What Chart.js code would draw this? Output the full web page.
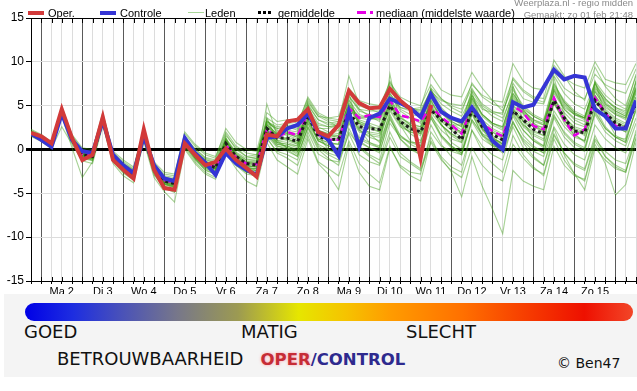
<!DOCTYPE html>
<html>
<head>
<meta charset="utf-8">
<script src="https://cdn.jsdelivr.net/npm/chart.js@4"></script>
<style>
  body { margin: 0; background: #fff; }
  #wrap { position: relative; width: 637px; height: 391px; overflow: hidden; font-family: 'Liberation Sans', Arial, sans-serif; }
  #chart { position: absolute; left: 0; top: 0; }
  .lg { position: absolute; top: 7px; font-size: 11px; line-height: 13px; color: #000; white-space: nowrap; }
  .sw { position: absolute; width: 16px; }
  .info { position: absolute; right: 4px; font-size: 9.5px; line-height: 11px; color: #8a8a8a; white-space: nowrap; }
  #panel { position: absolute; left: 4px; top: 294px; width: 633px; height: 83px; background: #f4f4f4; }
  #bar { position: absolute; left: 25px; top: 303px; width: 608px; height: 18px; border-radius: 9px;
    background: linear-gradient(90deg, #0000e6 0%, #1e2ee0 8%, #4a52b8 16%, #77778a 25%, #9c9a52 35%, #e6e600 45%, #f6c200 53%, #ff9c00 60%, #ff7000 72%, #f63a00 83%, #ee1000 92%, #f24628 100%); }
  .big { position: absolute; font-family: 'DejaVu Sans', sans-serif; font-size: 18px; line-height: 18px; color: #111; white-space: nowrap; }
  .oc { font-family: 'DejaVu Sans', sans-serif; font-weight: bold; font-size: 16.5px; }
</style>
</head>
<body>
<div id="wrap">
  <canvas id="chart" width="637" height="300"></canvas>

  <div class="sw" style="left:28px; top:11px; border-top:4px solid #d23a3a;"></div>
  <div class="lg" style="left:48px;">Oper.</div>
  <div class="sw" style="left:100px; top:11px; border-top:4px solid #3535d5;"></div>
  <div class="lg" style="left:120px;">Controle</div>
  <div class="sw" style="left:188px; top:12px; border-top:1px solid #a9d69a;"></div>
  <div class="lg" style="left:205px;">Leden</div>
  <div class="sw" style="left:258px; top:11px; width:14px; height:3px; background:repeating-linear-gradient(90deg,#000 0 3px,transparent 3px 5px);"></div>
  <div class="lg" style="left:278px;">gemiddelde</div>
  <div class="sw" style="left:357px; top:11px; width:16px; height:3px; background:repeating-linear-gradient(90deg,#e600e6 0 9px,transparent 9px 13px);"></div>
  <div class="lg" style="left:376px;">mediaan (middelste waarde)</div>

  <div class="info" style="top:-3px;">Weerplaza.nl - regio midden</div>
  <div class="info" style="top:9px;">Gemaakt: zo 01 feb 21:48</div>

  <div id="panel"></div>
  <div id="bar"></div>
  <div class="big" style="left:24px; top:323px;">GOED</div>
  <div class="big" style="left:241px; top:323px;">MATIG</div>
  <div class="big" style="left:406px; top:323px;">SLECHT</div>
  <div class="big" style="left:57px; top:350px;">BETROUWBAARHEID&nbsp;&nbsp;&nbsp;<span class="oc" style="color:#c62c36; text-shadow:0 0 3px rgba(255,120,130,0.7);">OPER</span><span class="oc" style="color:#2e2a8e;">/CONTROL</span></div>
  <div class="big" style="left:557px; top:356px; font-size:14px; line-height:14px;">© Ben47</div>
</div>

<script>
// time axis: hours after ma 2 feb 00:00 (6-hourly steps)
const hours = [-6, 0, 6, 12, 18, 24, 30, 36, 42, 48, 54, 60, 66, 72, 78, 84, 90, 96, 102, 108,
  114, 120, 126, 132, 138, 144, 150, 156, 162, 168, 174, 180, 186, 192, 198, 204, 210, 216, 222, 228,
  234, 240, 246, 252, 258, 264, 270, 276, 282, 288, 294, 300, 306, 312, 318, 324, 330, 336, 342, 348];

const dayLabels = ['Ma 2', 'Di 3', 'Wo 4', 'Do 5', 'Vr 6', 'Za 7', 'Zo 8', 'Ma 9', 'Di 10', 'Wo 11', 'Do 12', 'Vr 13', 'Za 14', 'Zo 15'];

// temperatures (°C)
const oper = [1.9, 1.5, 0.7, 4.6, 1.3, -1.2, -0.6, 3.7, -1.2, -2.3, -3.3, 2.3, -2.3, -4.4, -4.6, 0.7, -0.6, -1.8, -1.4, 0.1,
  -1.2, -2.1, -3.1, 1.7, 1.5, 3.2, 3.4, 4.6, 2.0, 1.5, 2.8, 6.7, 5.3, 4.7, 4.8, 6.9, 5.6, 4.6, -1.0, 5.1];

const controle = [1.8, 1.1, 0.3, 4.1, 1.1, -0.2, -0.4, 3.3, -0.6, -1.8, -2.7, 1.5, -1.8, -3.3, -3.6, 1.3, -0.4, -1.5, -2.9, -0.4,
  -1.6, -2.3, -2.9, 1.3, 1.5, 2.4, 2.8, 4.1, 2.0, 1.1, -0.7, 4.3, 0.3, 3.6, 4.1, 5.8, 5.3, 4.7, 3.7, 6.3,
  4.3, 3.6, 3.2, 4.8, 3.2, 1.0, 0.0, 5.4, 4.8, 5.1, 7.1, 9.1, 8.0, 8.4, 8.2, 4.6, 3.8, 2.4, 2.4, 5.6];

const gemiddelde = [1.8, 1.2, 0.4, 4.2, 1.1, -0.6, -0.8, 3.4, -0.9, -2.0, -2.8, 1.6, -2.2, -3.6, -3.9, 0.9, -0.6, -1.6, -2.1, 0.7,
  -0.8, -1.6, -1.8, 2.4, 1.3, 1.3, 0.9, 3.9, 1.5, 1.1, 1.2, 4.3, 2.6, 2.4, 2.3, 5.0, 3.2, 2.4, 2.0, 4.5,
  3.4, 2.4, 1.1, 4.5, 2.6, 1.7, 1.1, 4.4, 3.4, 2.3, 1.8, 5.6, 3.6, 2.1, 1.9, 5.6, 4.2, 3.0, 2.5, 5.2];

const mediaan = [1.8, 1.2, 0.4, 4.2, 1.1, -0.5, -0.7, 3.4, -0.8, -2.0, -2.8, 1.6, -2.1, -3.5, -3.8, 1.0, -0.6, -1.5, -2.0, 0.5,
  -0.9, -1.6, -1.7, 2.3, 1.4, 2.0, 1.6, 4.1, 1.7, 1.1, 1.1, 4.7, 3.6, 3.9, 3.7, 5.6, 3.9, 3.6, 3.2, 4.9,
  3.7, 2.8, 1.8, 4.8, 3.0, 2.1, 1.5, 5.0, 4.2, 2.7, 2.3, 5.9, 3.4, 1.6, 2.3, 5.9, 4.2, 2.7, 2.4, 5.5];

// ensemble members (leden)
const leden = [
  [2.0,1.4,0.5,4.5, 1.3,-0.3,-0.5,3.6, -0.7,-1.8,-2.6,1.8, -2.0,-3.3,-3.5,1.2, -0.3,-1.2,-1.5,1.2, -0.4,-1.2,-1.0,3.0, 2.4,2.6,2.2,5.0, 3.4,2.8,3.0,6.2, 4.4,4.0,3.8,6.8, 5.2,4.6,4.0,7.0, 5.8,4.8,4.2,7.6, 6.0,5.2,4.8,8.0, 6.6,5.8,5.4,8.8, 7.0,6.2,5.8,8.6, 7.4,6.8,6.4,9.2],
  [1.6,1.0,0.2,3.9, 0.8,-1.0,-1.3,3.0, -1.3,-2.5,-3.3,1.2, -2.8,-4.2,-4.6,0.4, -1.2,-2.3,-2.8,0.0, -1.8,-2.8,-3.0,1.2, -0.2,-0.6,-1.2,2.0, -0.5,-1.2,-1.4,1.8, -0.6,-1.4,-1.8,1.4, -0.8,-1.6,-2.4,0.8, -1.2,-2.4,-3.2,0.2, -1.8,-3.0,-3.6,0.6, -1.0,-2.2,-2.8,1.6, -0.4,-1.8,-2.4,1.2, -0.2,-1.2,-1.6,1.8],
  [1.9,1.3,0.6,4.4, 1.4,-0.4,-0.6,3.7, -0.6,-1.6,-2.4,2.0, -1.8,-3.2,-3.4,1.4, 0.0,-1.0,-1.4,1.6, 0.2,-0.8,-1.0,3.4, 2.0,1.8,1.6,4.6, 2.6,2.0,1.8,5.4, 3.2,2.8,2.2,5.8, 3.6,2.8,2.6,6.4, 4.4,3.2,2.6,5.8, 3.8,2.8,2.2,5.6, 4.0,3.0,2.4,6.8, 4.6,3.4,2.8,6.6, 5.0,4.0,3.4,6.4],
  [1.7,1.1,0.3,4.0, 0.9,-0.8,-1.1,3.2, -1.1,-2.3,-3.1,1.4, -2.5,-4.0,-4.3,0.6, -0.9,-2.0,-2.5,0.4, -1.4,-2.2,-2.4,2.0, 0.6,0.4,-0.2,3.0, 0.4,-0.4,-0.8,3.2, 0.8,0.2,-0.4,3.8, 1.2,0.0,-0.6,3.6, 1.6,0.4,-0.4,4.2, 2.2,1.2,0.6,4.8, 3.2,2.2,1.6,5.8, 4.2,3.0,2.6,6.2, 4.6,3.6,3.0,6.0],
  [2.2,1.6,0.8,4.8, 1.6,0.0,-0.2,4.0, -0.4,-1.4,-2.2,2.2, -1.6,-2.8,-3.0,1.8, 0.4,-0.6,-1.0,2.4, 0.8,0.0,-0.2,4.2, 3.2,3.4,3.0,5.8, 4.0,3.4,3.2,6.6, 5.0,4.6,4.2,7.4, 5.6,4.8,4.2,6.8, 4.8,3.6,2.8,5.4, 3.2,2.0,1.2,4.0, 2.2,1.0,0.4,4.4, 2.6,1.4,1.0,5.0, 3.6,2.6,2.0,5.6],
  [1.8,1.2,0.4,4.1, 1.0,-0.7,-0.9,3.3, -1.0,-2.1,-2.9,1.5, -2.3,-3.8,-4.1,0.8, -0.7,-1.8,-2.2,0.6, -1.2,-2.0,-2.4,1.8, 0.4,0.0,-0.8,2.6, 0.2,-0.6,-1.2,2.4, 0.2,-0.8,-1.6,2.0, -0.4,-1.4,-2.2,1.4, -1.0,-2.6,-5.4,-0.8, -4.2,-6.8,-9.6,-2.4, -3.6,-4.2,-4.6,0.4, -1.8,-3.0,-3.4,1.0, -0.8,-1.8,-2.4,1.4],
  [2.1,1.5,0.5,4.6, 1.2,-0.9,-1.2,3.9, -1.2,-2.6,-3.4,1.9, -2.6,-4.4,-4.8,1.0, -1.0,-2.4,-2.8,1.4, -1.6,-2.6,-2.8,3.6, 1.0,0.2,-0.4,5.2, 1.6,0.0,-0.6,6.4, 2.4,0.8,0.2,8.6, 2.8,1.0,0.4,7.0, 3.0,0.8,0.0,6.6, 2.4,0.6,-0.2,7.2, 3.2,1.2,0.4,8.2, 4.0,1.8,0.8,7.8, 3.8,1.6,1.0,8.0],
  [1.8,1.3,0.4,4.3, 1.1,-0.5,-0.7,3.5, -0.8,-1.9,-2.7,1.7, -2.1,-3.5,-3.8,1.0, -0.5,-1.5,-1.9,0.9, -0.8,-1.6,-1.6,5.2, 1.6,1.8,1.4,4.2, 2.4,2.4,2.8,5.0, 3.8,3.6,3.8,6.0, 4.8,4.4,4.6,6.6, 5.6,5.2,5.0,7.4, 6.2,5.6,5.4,9.8, 7.8,7.0,6.8,9.6, 8.2,7.4,7.0,10.0, 8.0,7.6,7.4,9.8],
  [1.7,1.2,0.3,4.0, 1.0,-0.6,-0.9,3.2, -1.0,-2.2,-3.0,1.4, -2.4,-3.9,-4.2,0.7, -0.8,-1.9,-2.3,0.2, -1.6,-2.6,-2.8,1.4, -0.4,-1.0,-1.8,1.6, -1.4,-2.2,-3.0,1.0, -1.6,-2.8,-3.8,0.4, -2.0,-3.0,-3.6,1.0, -0.8,-2.0,-2.6,2.2, 0.4,-0.6,-1.2,3.0, 1.2,0.2,-0.4,3.8, 2.0,0.8,0.2,4.2, 2.4,1.4,0.8,4.6],
  [1.8,1.2,0.4,4.2, 1.1,-0.5,-0.7,3.4, -0.8,-2.0,-2.8,1.6, -2.1,-3.5,-3.8,1.0, -0.6,-1.5,-2.0,0.5, -1.0,-1.8,-2.0,2.0, 1.8,2.0,1.6,4.0, 1.8,1.2,1.0,4.6, 3.6,3.8,3.6,5.6, 3.8,3.6,3.2,4.8, 3.6,2.8,1.8,4.8, 3.0,2.2,1.6,5.0, 4.2,2.6,2.2,6.0, 3.4,1.6,2.4,6.0, 4.2,2.8,2.4,5.4],
  [2.0,1.3,0.5,4.4, 1.2,-0.4,-0.6,3.6, -0.7,-1.8,-2.6,1.8, -1.9,-3.4,-3.6,1.1, -0.4,-1.4,-1.8,1.0, -0.6,-1.4,-1.4,2.8, 1.8,1.6,1.2,4.4, 2.2,1.8,2.2,5.2, 3.6,3.4,3.6,6.4, 4.8,4.6,4.8,8.6, 6.8,6.2,6.0,8.8, 7.0,5.6,4.4,7.2, 4.6,3.0,2.0,5.4, 3.0,1.6,1.0,4.8, 2.6,1.4,1.2,4.4],
  [1.7,1.1,0.3,4.1, 1.0,-0.7,-1.0,3.2, -1.1,-2.3,-3.1,1.3, -2.5,-3.9,-4.3,0.5, -1.0,-2.1,-2.6,0.3, -1.4,-2.2,-2.2,2.2, 1.0,0.8,0.4,3.4, 1.0,0.4,0.2,3.6, 1.4,0.8,0.4,3.6, 1.2,0.2,-0.6,2.8, 0.6,-0.8,-1.8,2.2, -0.2,-1.6,-2.6,1.6, -0.6,-2.0,-3.0,1.2, -1.2,-2.8,-3.6,0.6, -1.6,-5.2,-4.0,0.8],
  [1.9,1.2,0.4,4.3, 1.1,-0.6,-0.8,3.5, -0.9,-2.0,-2.9,1.6, -2.2,-3.7,-4.0,0.9, -0.6,-1.7,-2.1,0.8, -0.9,-1.7,-1.6,3.2, 2.6,2.8,2.6,5.6, 3.8,3.2,2.6,5.8, 3.0,1.8,0.8,4.0, 1.6,0.6,0.0,3.6, 1.4,0.2,-0.6,3.2, 1.2,0.4,0.2,4.6, 3.2,2.6,2.6,7.0, 5.2,4.0,3.6,7.4, 5.8,4.6,4.0,7.2],
  [1.9,1.3,0.5,4.3, 1.2,-0.5,-0.7,3.5, -0.8,-1.9,-2.7,1.7, -2.0,-3.4,-3.7,1.1, -0.5,-1.4,-1.9,1.0, -0.8,-1.5,-1.4,2.8, 1.4,1.0,0.6,4.2, 2.2,1.6,1.6,5.0, 3.4,3.0,2.6,6.2, 4.4,3.6,3.0,6.0, 4.6,3.6,3.0,6.8, 5.2,4.4,4.0,8.2, 6.8,6.0,5.8,10.2, 8.4,6.6,5.6,9.4, 7.2,5.8,5.0,8.4],
  [1.6,1.0,0.2,3.8, 0.2,-3.2,-1.4,2.9, -1.4,-2.7,-3.5,1.1, -2.9,-4.4,-4.9,0.2, -1.4,-2.6,-3.2,-0.4, -2.2,-3.6,-4.2,0.8, -1.2,-2.0,-2.8,1.2, -1.6,-2.8,-4.6,0.6, -2.6,-4.2,-4.6,0.2, -1.8,-2.6,-2.8,2.0, 0.4,-0.2,-0.6,3.4, 1.8,1.2,0.8,4.6, 2.8,2.0,1.6,5.2, 3.2,2.2,1.8,5.6, 3.8,3.0,2.6,6.0],
  [1.8,1.2,0.4,4.2, 1.0,-0.6,-0.9,3.4, -0.9,-2.1,-2.9,1.5, -2.2,-3.6,-3.9,0.8, -0.7,-1.6,-2.0,0.6, -1.1,-1.9,-1.9,2.4, 1.2,1.4,1.0,4.4, 2.8,2.6,2.8,6.0, 4.6,4.4,4.4,7.0, 5.4,4.8,4.4,6.2, 4.2,3.0,2.2,5.0, 2.8,1.4,0.6,3.8, 1.6,0.4,-0.4,3.6, 1.4,0.2,-0.2,4.0, 2.0,1.0,0.4,3.6],
  [1.5,0.9,0.1,2.6, 0.6,-1.3,-1.6,2.7, -1.6,-3.0,-3.8,0.9, -3.2,-4.8,-6.0,0.0, -1.6,-2.8,-3.4,0.0, -1.8,-2.6,-2.6,2.2, 0.8,0.6,0.2,3.4, 1.2,0.8,0.6,4.4, 2.2,1.4,1.0,5.0, 3.0,2.2,1.8,5.4, 3.6,2.6,2.0,5.8, 4.0,3.0,2.4,6.4, 4.8,3.8,3.2,7.4, 5.6,4.4,3.8,7.2, 5.4,4.4,3.8,7.0],
  [2.3,1.7,0.9,4.9, 1.7,0.2,0.0,4.2, -0.2,-1.2,-2.0,2.4, -1.4,-2.6,-2.8,2.0, 0.6,-0.4,-0.8,2.0, 0.4,-0.4,-0.6,3.0, 1.6,1.2,0.6,3.6, 1.0,0.4,0.0,3.4, 1.2,0.6,0.2,4.4, 2.6,2.0,1.8,5.8, 4.2,3.4,3.0,6.6, 4.8,3.8,3.2,6.8, 5.0,4.0,3.4,7.6, 5.4,4.2,3.6,7.8, 6.2,5.2,4.6,8.6],
  [1.8,1.1,0.3,4.0, 0.9,-0.8,-1.0,3.3, -1.0,-2.2,-3.0,1.5, -2.3,-3.7,-4.1,0.7, -0.9,-1.8,-2.2,0.4, -1.2,-2.0,-2.2,2.0, 0.8,0.6,0.4,3.8, 2.0,1.6,1.4,4.8, 3.0,2.4,2.0,5.2, 3.4,2.6,2.0,4.8, 2.8,1.6,0.8,4.0, 1.8,0.6,-0.2,3.2, 0.8,-0.8,-1.8,2.4, -0.6,-2.8,-4.6,0.2, -1.2,-2.2,-2.6,2.2],
  [1.9,1.4,0.6,4.4, 1.3,-0.3,-0.5,3.6, -0.6,-1.7,-2.5,1.9, -1.8,-3.1,-3.4,1.3, -0.2,-1.1,-1.6,1.3, -0.3,-1.0,-0.8,3.2, 2.2,2.2,2.0,5.2, 3.4,3.0,3.2,8.4, 5.2,4.8,4.6,7.8, 5.6,4.6,3.8,6.4, 4.2,3.2,2.6,6.0, 4.0,3.0,2.6,6.2, 4.4,3.4,3.0,6.8, 5.0,4.0,3.6,7.0, 5.6,4.8,4.4,7.6],
  [1.8,1.2,0.5,4.2, 1.2,-0.6,-0.8,3.4, -0.9,-2.0,-2.8,1.7, -2.2,-3.6,-3.9,0.9, -0.6,-1.6,-2.1,0.7, -0.8,-1.6,-1.8,2.6, 1.6,1.8,1.4,4.4, 2.0,1.4,1.2,4.0, 2.2,1.8,1.6,4.6, 2.8,2.0,1.6,4.2, 2.8,1.8,1.0,4.6, 2.8,2.0,1.4,5.0, 3.6,2.6,2.0,5.8, 3.8,2.4,2.0,5.6, 4.2,3.2,2.6,5.4],
  [1.7,1.1,0.3,4.1, 1.0,-0.8,-1.0,3.2, -1.1,-2.3,-3.1,1.4, -2.4,-3.9,-4.2,0.6, -0.9,-2.0,-2.4,0.2, -1.4,-2.4,-2.6,1.6, 0.2,-0.2,-0.8,2.6, 0.6,0.0,-0.4,3.0, 1.0,0.2,-0.2,3.4, 1.6,0.8,0.4,3.8, 2.2,1.2,0.8,4.4, 2.4,1.2,0.4,3.2, 1.0,-0.2,-0.8,2.6, 0.6,-0.6,-1.2,2.8, 1.2,0.2,-0.4,3.0],
  [2.0,1.4,0.6,4.4, 1.3,-0.4,-0.6,3.6, -0.7,-1.8,-2.6,1.8, -2.0,-3.4,-3.6,1.2, -0.3,-1.3,-1.7,1.2, -0.5,-1.2,-1.2,3.2, 2.4,2.6,2.4,5.4, 3.8,3.6,3.8,7.0, 5.6,5.2,5.0,7.6, 6.0,5.4,5.0,7.4, 5.8,5.0,4.6,7.0, 5.0,4.2,3.6,6.4, 4.6,3.8,3.2,6.6, 4.8,4.0,3.4,6.8, 5.2,4.4,3.8,7.0],
  [1.8,1.2,0.4,4.2, 1.1,-0.6,-0.8,3.4, -0.9,-2.0,-2.8,1.6, -2.2,-3.6,-3.9,0.9, -0.7,-1.7,-2.2,0.6, -1.0,-1.8,-2.0,2.2, 0.8,0.2,-0.6,2.4, 0.0,-1.0,-1.8,2.0, 0.4,-0.6,-1.2,3.0, 1.4,0.8,0.8,4.6, 3.2,2.8,2.8,6.2, 4.6,4.2,4.2,7.6, 5.8,5.4,5.2,8.4, 6.4,5.2,4.6,7.6, 5.2,4.2,3.6,6.8],
  [1.9,1.3,0.5,4.3, 1.2,-0.5,-0.7,3.5, -0.8,-1.9,-2.7,1.7, -2.1,-3.5,-3.8,1.0, -0.5,-1.5,-1.9,0.9, -0.7,-1.5,-1.5,2.6, 1.4,1.2,0.8,4.0, 2.0,1.6,1.4,4.8, 3.0,2.6,2.4,5.4, 3.6,3.0,2.6,5.2, 3.2,2.2,1.4,4.2, 1.6,0.4,-0.4,2.6, 0.2,-1.0,-1.8,1.8, -0.4,-1.6,-2.2,1.6, -0.8,-2.0,-2.6,1.2],
  [1.6,1.0,0.2,3.9, 0.8,-0.9,-1.2,3.1, -1.2,-2.4,-3.2,1.3, -2.6,-4.0,-4.4,0.5, -1.1,-2.2,-2.6,0.1, -1.6,-2.4,-2.4,1.8, 0.4,0.2,-0.2,3.0, 1.0,0.6,0.6,3.8, 2.0,1.6,1.4,5.0, 3.2,2.6,2.4,5.6, 3.6,2.6,2.0,5.0, 2.6,1.6,1.0,4.6, 2.8,1.8,1.2,5.4, 3.6,2.6,2.2,6.2, 4.4,3.4,2.8,6.6],
  [2.1,1.5,0.7,4.6, 1.4,-0.2,-0.4,3.8, -0.5,-1.6,-2.3,2.0, -1.7,-3.0,-3.2,1.5, 0.1,-0.9,-1.2,1.8, 0.0,-0.8,-0.6,3.6, 2.8,3.0,2.8,6.0, 4.2,3.6,3.4,6.6, 4.6,3.8,3.2,6.0, 3.8,2.8,2.2,5.6, 3.6,2.4,1.8,5.6, 3.4,2.4,1.8,6.0, 4.4,3.4,2.8,7.2, 5.4,4.2,3.6,7.6, 5.8,4.8,4.2,7.8],
  [1.8,1.1,0.3,4.0, 0.9,-0.7,-1.0,3.3, -1.0,-2.2,-3.0,1.5, -2.3,-3.7,-4.0,0.8, -0.8,-1.8,-2.2,0.5, -1.1,-1.9,-2.0,2.2, 1.0,1.2,0.8,4.2, 2.2,1.8,1.6,5.0, 3.2,2.6,2.0,5.4, 3.0,1.8,1.0,4.0, 1.6,0.4,-0.4,3.4, 1.6,0.8,0.4,4.4, 2.6,1.6,1.0,5.6, 3.4,2.2,1.6,5.8, 3.6,2.6,2.0,5.6],
  [2.0,1.3,0.5,4.4, 1.2,-0.4,-0.6,3.5, -0.8,-1.9,-2.7,1.7, -2.0,-3.5,-3.7,1.1, -0.4,-1.4,-1.8,1.1, -0.6,-1.4,-1.2,2.8, 1.8,2.0,1.8,4.8, 3.0,2.6,2.8,5.6, 4.0,3.6,3.4,6.4, 4.6,4.0,3.8,6.8, 5.2,4.4,3.8,6.2, 4.0,3.0,2.6,5.8, 4.2,3.2,2.8,6.4, 4.6,3.6,3.2,6.6, 4.8,4.0,3.6,6.8],
  [1.7,1.1,0.3,4.0, 1.0,-0.7,-1.0,3.2, -1.1,-2.3,-3.0,1.4, -2.4,-3.8,-4.2,0.7, -0.9,-2.0,-2.4,0.3, -1.3,-2.1,-2.2,2.0, 0.6,0.4,0.0,3.2, 1.2,0.8,0.6,4.2, 2.4,2.0,1.8,5.4, 3.2,2.4,2.0,5.0, 2.8,1.8,1.2,4.6, 2.4,1.4,0.6,4.2, 2.2,1.0,0.2,4.0, 1.8,0.6,0.0,4.4, 2.4,1.4,0.8,4.8]
];

const toPoints = arr => arr.map((v, i) => ({ x: hours[i], y: v }));

const datasets = [
  { label: 'Oper.', data: toPoints(oper), borderColor: '#d23a3a', borderWidth: 4 },
  { label: 'Controle', data: toPoints(controle), borderColor: '#3535d5', borderWidth: 4 },
  { label: 'gemiddelde', data: toPoints(gemiddelde), borderColor: '#1c1c1c', borderWidth: 3, borderDash: [3, 3] },
  { label: 'mediaan (middelste waarde)', data: toPoints(mediaan), borderColor: '#e600e6', borderWidth: 2.5, borderDash: [7, 4] }
];
leden.forEach(lid => {
  datasets.push({ label: 'Leden', data: toPoints(lid), borderColor: 'rgba(60,155,20,0.45)', borderWidth: 1.1 });
});

// little black ticks inside the top and bottom edge
const innerTicks = {
  id: 'innerTicks',
  afterDraw(chart) {
    const { ctx, chartArea, scales } = chart;
    ctx.save();
    ctx.strokeStyle = '#000';
    ctx.lineWidth = 1;
    scales.x.ticks.forEach(t => {
      const px = Math.round(scales.x.getPixelForValue(t.value)) + 0.5;
      ctx.beginPath();
      ctx.moveTo(px, chartArea.top);
      ctx.lineTo(px, chartArea.top + 5);
      ctx.moveTo(px, chartArea.bottom - 4);
      ctx.lineTo(px, chartArea.bottom);
      ctx.stroke();
    });
    ctx.restore();
  }
};

const ctx = document.getElementById('chart').getContext('2d');
new Chart(ctx, {
  type: 'line',
  data: { datasets: datasets },
  options: {
    responsive: false,
    animation: false,
    devicePixelRatio: 1,
    layout: { padding: { top: 18, left: 0, right: 0, bottom: 0 } },
    elements: {
      point: { radius: 0 },
      line: { tension: 0, fill: false, borderJoinStyle: 'miter' }
    },
    plugins: {
      legend: { display: false },
      tooltip: { enabled: false }
    },
    scales: {
      x: {
        type: 'linear',
        min: -6,
        max: 348,
        afterBuildTicks: scale => { scale.ticks = hours.map(h => ({ value: h })); },
        afterFit: scale => { scale.height = 19; },
        border: { color: '#000', width: 1 },
        grid: {
          color: c => (c.tick && c.tick.value % 24 === 0) ? '#5a5a5a' : '#dcdcdc',
          lineWidth: 1,
          drawTicks: true,
          tickLength: 3,
          tickColor: '#000'
        },
        ticks: {
          autoSkip: false,
          maxRotation: 0,
          padding: 1,
          color: '#000',
          font: { family: "'Liberation Sans', Arial", size: 11 },
          callback: v => ((v - 12) % 24 === 0 && dayLabels[(v - 12) / 24]) || ''
        }
      },
      y: {
        min: -15,
        max: 15,
        afterFit: scale => { scale.width = 31; },
        border: { color: '#000', width: 1 },
        grid: {
          color: c => (c.tick.value === 0 || Math.abs(c.tick.value) === 15) ? '#000' : '#dcdcdc',
          lineWidth: c => c.tick.value === 0 ? 3 : 1,
          tickLength: 5,
          tickColor: '#000'
        },
        ticks: {
          stepSize: 5,
          padding: 2,
          color: '#000',
          font: { family: "'Liberation Sans', Arial", size: 12 }
        }
      }
    }
  },
  plugins: [innerTicks]
});
</script>
</body>
</html>
